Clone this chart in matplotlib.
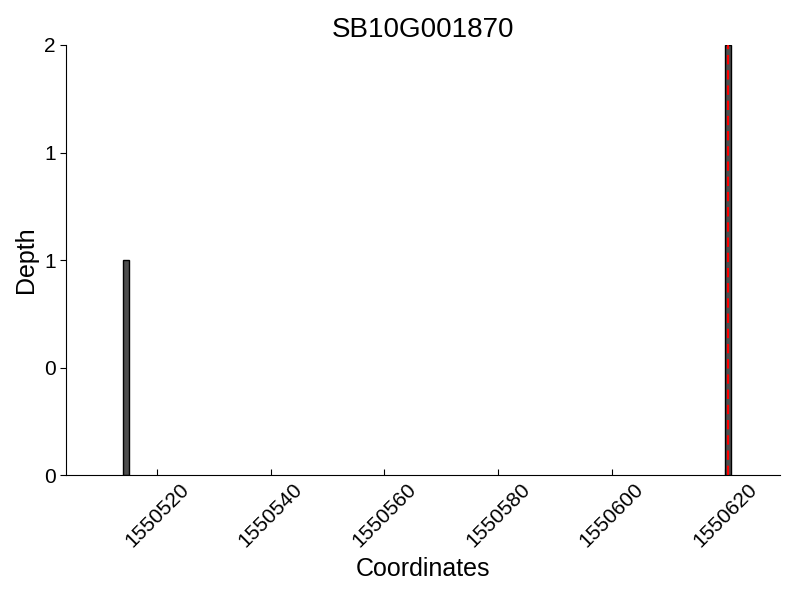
import matplotlib
matplotlib.use("Agg")
import matplotlib.pyplot as plt
from matplotlib.ticker import FormatStrFormatter

plt.rcParams['font.family'] = ['Liberation Sans', 'DejaVu Sans']

title = "SB10G001870"
positions = [1550514, 1550620]
depths = [1, 2]
marker_positions = [1550620]
x_range = (1550504, 1550629.6)
x_ticks = [1550520, 1550540, 1550560, 1550580, 1550600, 1550620]
y_ticks = [0, 0.5, 1.0, 1.5, 2.0]

fig = plt.figure(figsize=(8, 6), dpi=100)
ax = fig.add_axes([0.0825, 0.2083, 0.8925, 0.7167])

ax.bar(positions, depths, width=1, align='edge', color='#4d4d4d',
       edgecolor='black', linewidth=1)
for p in marker_positions:
    ax.plot([p + 0.5, p + 0.5], [0, max(depths)], color='red',
            linestyle=(0, (4.5, 2.8)), linewidth=1.5)

ax.set_xlim(*x_range)
ax.set_ylim(0, 2)
ax.set_xticks(x_ticks)
ax.set_xticklabels([str(t) for t in x_ticks], rotation=45, fontsize=15)
ax.set_yticks(y_ticks)
ax.yaxis.set_major_formatter(FormatStrFormatter('%d'))
ax.tick_params(axis='y', labelsize=15, direction='out', length=4)
ax.tick_params(axis='x', direction='in', length=4)
ax.spines['top'].set_visible(False)
ax.spines['right'].set_visible(False)

ax.set_title(title, fontsize=20)
ax.set_xlabel("Coordinates", fontsize=18)
ax.set_ylabel("Depth", fontsize=18)

fig.savefig("out.png", dpi=100)
